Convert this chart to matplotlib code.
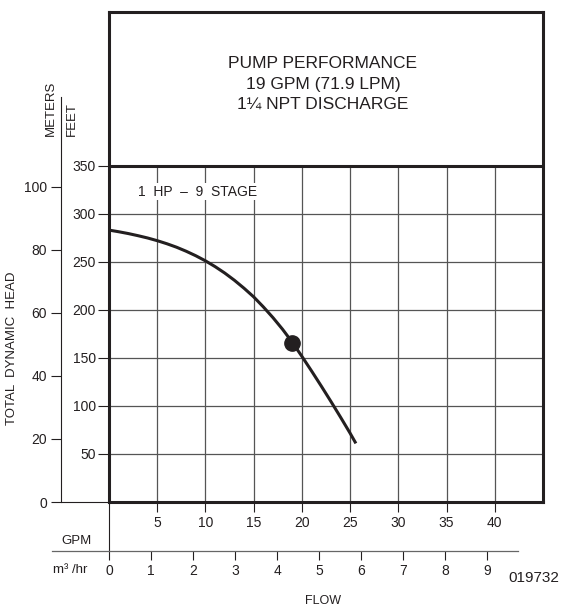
import matplotlib.pyplot as plt

# Values
gpm_ticks = [5, 10, 15, 20, 25, 30, 35, 40]
feet_ticks = [50, 100, 150, 200, 250, 300, 350]
meter_ticks = [0, 20, 40, 60, 80, 100]
m3hr_ticks = [0, 1, 2, 3, 4, 5, 6, 7, 8, 9]

curve_gpm = [0, 1, 2, 3, 4, 5, 6, 7, 8, 9, 10, 11, 12, 13, 14, 15, 16, 17,
             18, 19, 20, 21, 22, 23, 24, 25, 25.6]
curve_ft = [283.0, 281.3, 279.4, 277.2, 274.8, 272.0, 268.8, 265.2, 261.0,
            256.3, 251.0, 245.0, 238.3, 230.8, 222.5, 213.5, 203.1, 191.9,
            179.7, 166.3, 151.6, 136.4, 120.8, 104.8, 88.4, 71.6, 61.0]

rated_gpm = 19
rated_ft = 166

title = "PUMP PERFORMANCE\n19 GPM (71.9 LPM)\n1\u00bc NPT DISCHARGE"
curve_label = "1  HP  \u2013  9  STAGE"

INK = "#231f20"
GRID = "#555555"
FONT = ["Liberation Sans", "DejaVu Sans"]
plt.rcParams["font.family"] = FONT

W, H, DPI = 563, 610, 100
fig = plt.figure(figsize=(W / DPI, H / DPI), dpi=DPI)


def fx(px):
    return px / W


def fy(py):
    return 1 - py / H


# main chart: GPM vs feet, the top part of the box holds the title
ax = fig.add_axes([fx(109), fy(502), (543 - 109) / W, (502 - 12) / H])
ax.set_xlim(0, 45)
ax.set_ylim(0, 510)
for s in ax.spines.values():
    s.set_linewidth(2.2)
    s.set_color(INK)

ax.vlines(gpm_ticks, 0, 350, colors=GRID, lw=0.9)
ax.hlines(feet_ticks[:-1], 0, 45, colors=GRID, lw=0.9)
ax.axhline(350, color=INK, lw=2.2)

ax.plot(curve_gpm, curve_ft, color=INK, lw=2.2, solid_capstyle="butt")
ax.plot(rated_gpm, rated_ft, "o", color=INK, ms=11)

ax.set_xticks(gpm_ticks)
ax.set_yticks(feet_ticks)
ax.tick_params(axis="x", direction="out", length=7.2, width=0.8, pad=3,
               labelsize=10, color=INK, labelcolor=INK)
ax.tick_params(axis="y", direction="out", length=8, width=0.8, pad=1.5,
               labelsize=10, color=INK, labelcolor=INK)

ax.text(3.0, 323, curve_label, fontsize=10, color=INK,
        va="center", ha="left",
        bbox=dict(facecolor="white", edgecolor="none", pad=1.0))

# thin extensions of the box down to the m3/hr axis and left to the meters axis
ax.vlines(0, -0.1, 0, transform=ax.get_xaxis_transform(), colors=INK,
          lw=0.8, clip_on=False)
ax.hlines(0, -0.1106, 0, transform=ax.get_yaxis_transform(), colors=INK,
          lw=0.8, clip_on=False)

# meters axis
axm = fig.add_axes([fx(61), fy(502), 1e-4, (502 - 97) / H])
axm.set_ylim(0, (502 - 97) / (490 / 510) / 3.28084)
axm.patch.set_visible(False)
for k in ["right", "top", "bottom"]:
    axm.spines[k].set_visible(False)
axm.spines["left"].set_linewidth(0.8)
axm.spines["left"].set_color(INK)
axm.set_xticks([])
axm.set_yticks(meter_ticks)
axm.tick_params(axis="y", direction="out", length=7, width=0.8, pad=3,
                labelsize=10, color=INK, labelcolor=INK)

# m3/hr axis
axq = fig.add_axes([fx(52), fy(551), (518 - 52) / W, 1e-4])
axq.set_xlim((52 - 109) / 42.0, (518 - 109) / 42.0)
axq.patch.set_visible(False)
for k in ["left", "right", "top"]:
    axq.spines[k].set_visible(False)
axq.spines["bottom"].set_linewidth(0.9)
axq.spines["bottom"].set_color("#666666")
axq.set_yticks([])
axq.set_xticks(m3hr_ticks)
axq.tick_params(axis="x", direction="out", length=6.3, width=0.8, pad=3,
                labelsize=10, color=INK, labelcolor=INK)

# titles and axis captions
fig.text(fx(323), fy(84), title, ha="center", va="center", fontsize=12.5,
         color=INK, linespacing=1.47)
fig.text(fx(51), fy(136), "METERS", rotation=90, ha="center", va="bottom",
         fontsize=9.5, color=INK)
fig.text(fx(72), fy(136), "FEET", rotation=90, ha="center", va="bottom",
         fontsize=9.5, color=INK)
fig.text(fx(12), fy(348), "TOTAL  DYNAMIC  HEAD", rotation=90, ha="center",
         va="center", fontsize=9.5, color=INK)
fig.text(fx(76), fy(541), "GPM", ha="center", va="center", fontsize=9.5,
         color=INK)
fig.text(fx(70), fy(570), "m\u00b3 /hr", ha="center", va="center",
         fontsize=9.5, color=INK)
fig.text(fx(323), fy(601), "FLOW", ha="center", va="center", fontsize=9,
         color=INK)
fig.text(fx(534), fy(578), "019732", ha="center", va="center", fontsize=11,
         color=INK)

fig.savefig("out.png", dpi=DPI)
